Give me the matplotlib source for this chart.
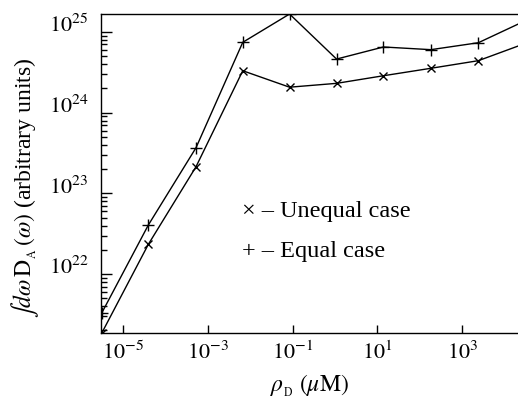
import numpy as np
import matplotlib
matplotlib.use("Agg")
import matplotlib.pyplot as plt
from matplotlib.ticker import LogLocator, NullLocator, FixedLocator

plt.rcParams["font.family"] = ["Liberation Serif", "DejaVu Serif"]
plt.rcParams["mathtext.fontset"] = "stix"

# donor concentration (uM)
rho_d = [3.1e-6, 3.9e-5, 5.2e-4, 6.6e-3, 8.4e-2, 1.08, 13.8, 182, 2400, 3.1e4]
# integrated D_A, equal case (+)
equal_case = [3.3e21, 4.06e22, 3.68e23, 7.45e24, 1.67e25, 4.62e24, 6.52e24, 6.04e24, 7.36e24, 1.38e25]
# integrated D_A, unequal case (x)
unequal_case = [1.86e21, 2.34e22, 2.14e23, 3.31e24, 2.07e24, 2.31e24, 2.87e24, 3.55e24, 4.41e24, 7.23e24]

xticks = [1e-5, 1e-3, 1e-1, 1e1, 1e3]
xticklabels = [r"$10^{-5}$", r"$10^{-3}$", r"$10^{-1}$", r"$10^{1}$", r"$10^{3}$"]
yticks = [1e22, 1e23, 1e24, 1e25]
yticklabels = [r"$10^{22}$", r"$10^{23}$", r"$10^{24}$", r"$10^{25}$"]

W, H = 518, 408
fig = plt.figure(figsize=(W / 100, H / 100), dpi=100)
ax = fig.add_axes([101 / W, 1 - 333 / H, 1 - 101 / W, (333 - 14) / H])

ax.plot(rho_d, equal_case, color="black", lw=1.0, marker="+", ms=8, mew=1.0)
ax.plot(rho_d, unequal_case, color="black", lw=1.0, marker="x", ms=6, mew=1.0)

ax.set_xscale("log")
ax.set_yscale("log")
ax.set_xlim(10 ** -5.527, 10 ** 4.317)
ax.set_ylim(10 ** 21.27, 10 ** 25.223)

ax.spines["right"].set_visible(False)
for s in ["left", "top", "bottom"]:
    ax.spines[s].set_linewidth(1.0)

ax.xaxis.set_major_locator(FixedLocator(xticks))
ax.set_xticklabels(xticklabels)
ax.xaxis.set_minor_locator(NullLocator())
ax.yaxis.set_major_locator(FixedLocator(yticks))
ax.set_yticklabels(yticklabels)
ax.yaxis.set_minor_locator(LogLocator(base=10, subs=np.arange(2, 10)))
ax.yaxis.set_minor_formatter(matplotlib.ticker.NullFormatter())

ax.tick_params(axis="x", which="major", direction="in", length=6, width=1, pad=6, labelsize=16, top=False)
ax.tick_params(axis="y", which="major", direction="in", length=8, width=1, pad=9, labelsize=16, right=False)
ax.tick_params(axis="y", which="minor", direction="in", length=4, width=1, right=False)
for lbl in ax.get_yticklabels():
    lbl.set_verticalalignment("baseline")

fig.text(25 / W, 1 - 188 / H,
         r"$\int d\omega\,\mathrm{D}_{_\mathrm{A}}\,(\omega)$ (arbitrary units)",
         rotation=90, ha="center", va="center", fontsize=17)
fig.text(310 / W, 1 - 386 / H, r"$\rho_{_\mathrm{D}}\ (\mu\mathrm{M})$",
         ha="center", va="center", fontsize=17)

fig.text(242 / W, 1 - 211 / H, "× – Unequal case", ha="left", va="center", fontsize=17.5)
fig.text(242 / W, 1 - 252 / H, "+ – Equal case", ha="left", va="center", fontsize=17.5)

fig.savefig("out.png", dpi=100)
